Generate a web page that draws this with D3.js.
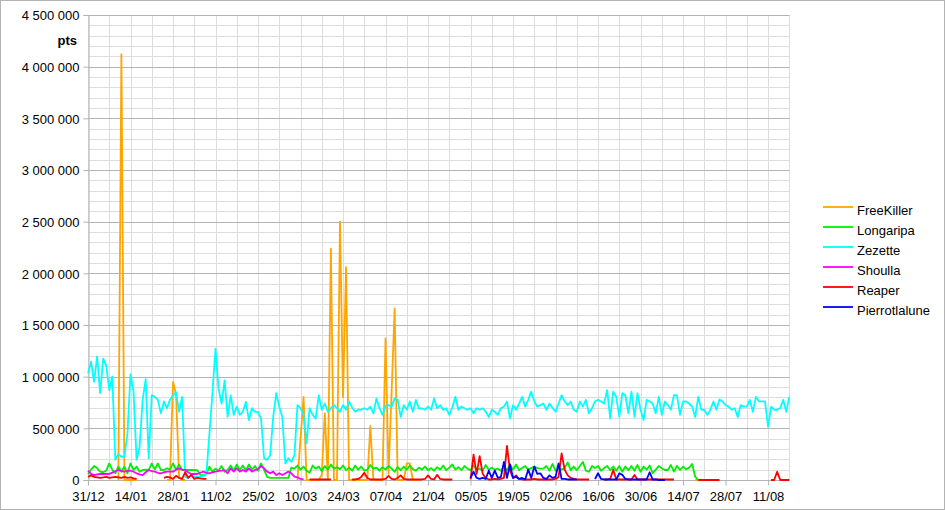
<!DOCTYPE html>
<html><head><meta charset="utf-8">
<script src="https://cdn.jsdelivr.net/npm/d3@7"></script>
<style>
html,body{margin:0;padding:0;background:#fff;}
svg{display:block;font-family:"Liberation Sans",Arial,sans-serif;}
</style></head>
<body>
<svg id="c" width="945" height="510"></svg>
<script>
// values in thousands of pts, one value per day starting 31/12
const startDate = Date.UTC(2019, 11, 31);
const seriesNames = ["FreeKiller","Longaripa","Zezette","Shoulla","Reaper","Pierrotlalune"];
const seriesColors = ["#ffa500","#00ee00","#00ffff","#ff00ff","#ff0000","#0000ff"];
const N = null;

const freeKiller = [
N,N,N,N,N,N,N,N,N,N, 0,4120,0,0,0,0,0, N,N,N,N,N,N,N,N,N,
0,0,950,830,30,0,0,
N,N,N,N,N,N,N,N,N,N,N,N,N,N,N,N,N,N,N,N,N,N,N,N,N,N,N,N,N,N,N,N,N,N,N,N,
0,400,805,0,0,0,0,0,50,645,0,2240,0,0,2500,800,2060,0,0,0,0,0,0,0,520,0,0,0,0,1370,60,850,1660,0,0,0,160,160,0,0,0,
N,N,N,N,N,N,N,N,N,N,N,N,N,N,N,N,N,N,N,N,N,N,N,N,N,N,N,N,N,N,N,N,N,N,N,N,N,N,N,N,N,N,N,N,N,N,N,N,N,N,N,N,N,N,N,N,N,N,N,N,N,N,N,N,N,N,N,N,N,N,N,N,N,N,N,N,N,N,N,N,N,N,N,N,N,N,N,N,N,N,
0,0,0,0,0,0,0,0,
N,N,N,N,N,N,N,N,N,N,N,N,N,N,N,N,N,N,N,N,N,N,N
];

const longaripa = [
58,100,135,115,80,75,90,160,100,65,
130,80,130,65,160,97,130,80,97,100,
97,160,103,160,97,97,113,100,161,100,
150,97,97,97,97,97,95,50,45,60,
130,80,110,90,135,80,100,140,90,150,
95,140,90,150,100,135,90,160,100,30,
20,20,20,20,20,20,20,120,110,140,
100,130,90,70,140,110,130,85,135,100,
150,110,125,105,140,95,120,90,140,100,
130,90,100,145,110,120,90,125,100,135,
110,80,125,95,130,100,140,105,90,120,
100,130,95,115,90,125,100,140,95,120,
150,100,125,95,135,110,95,140,100,110,
90,145,100,120,100,110,90,130,95,150,
100,150,95,115,135,100,115,130,115,110,
110,135,90,155,90,115,100,115,170,95,
130,95,135,175,90,80,135,115,135,90,
115,135,95,130,90,135,80,130,95,135,
90,145,80,130,100,140,
65,100,135,113,97,97,145,81,135,97,130,103,120,155,32,
0,0,0,0,0,0,0,
N,N,N,N,N,N,N,N,N,N,N,N,N,N,N,N,N,N,N,N,N,N,N,N
];

const zezette = [
1030,1145,950,1195,840,1175,1110,870,1000,195,
250,225,225,450,1025,855,195,320,775,975,
210,820,805,775,645,760,695,775,820,850,
660,805,30,20,40,30,30,35,35,60,
450,850,1270,885,740,965,610,820,630,710,
630,660,755,580,695,660,660,595,210,195,
240,610,840,710,610,160,210,175,240,725,
695,630,355,695,630,595,820,
680,740,660,695,725,695,660,725,680,760,700,
660,680,680,695,680,710,645,790,695,630,720,
725,710,790,775,610,725,680,760,660,775,690,
695,680,710,680,790,695,725,680,695,630,700,
805,680,710,695,680,695,645,695,680,695,660,
610,680,660,630,695,710,760,595,725,680,740,
805,710,775,855,760,710,725,740,680,740,700,
660,740,820,760,725,760,680,660,760,710,775,645,695,760,775,
760,
740,870,595,855,805,610,840,820,645,855,
610,840,680,580,775,760,740,645,805,630,
760,725,680,820,820,630,760,760,740,710,
610,805,680,680,630,680,760,680,780,760,
725,710,680,695,610,725,710,710,775,660,
805,760,760,760,515,710,680,680,695,775,
660,805
];

const shoulla = [
90,60,48,55,58,60,58,60,71,85,
97,85,81,88,90,80,65,55,48,75,
97,85,81,70,65,75,81,81,81,100,
113,100,97,75,58,58,58,70,81,70,
65,75,81,88,90,95,65,113,81,113,
81,97,81,113,81,97,105,135,113,81,
65,81,48,65,48,65,81,65,32,26,
10,5
];

const reaper = [
30,45,30,25,20,25,30,20,25,30,25,20,30,20,25,15,10,
N,N,N,N,N,N,N,N,
20,30,25,10,40,20,10,75,20,50,10,20,15,10,10,
N,N,N,N,N,N,N,N,N,N,N,N,N,N,N,N,N,N,N,N,N,N,N,N,N,N,N,N,N,N,N,N,N,
5,5,5,5,5,5,5,5,
N,N,N,N,N,N,
5,5,10,30,70,20,5,5,5,5,5,10,40,10,5,20,45,10,5,5,5,5,5,5,10,45,10,5,50,10,5,5,5,5,
N,N,N,N,N,
5,245,60,230,60,20,5,5,10,5,10,20,330,90,20,45,10,5,5,5,5,10,5,5,5,5,5,5,10,30,258,100,45,20,10,5,5,5,5,5,
N,N,N,N,
5,5,10,100,5,5,5,5,5,5,48,5,5,5,5,5,5,5,5,5,5,5,5,5,
N,N,N,N,N,N,N,
0,0,0,0,0,0,0,0,
N,N,N,N,N,N,N,N,N,N,N,N,N,N,N,N,
0,0,80,0,0,0,0
];

const pierrotlalune = [
...Array(126).fill(N),
20,80,20,10,20,10,90,20,90,20,30,175,20,150,20,30,10,20,5,100,20,130,60,65,20,10,45,20,30,160,10,10,5,5,5,5,
N,N,N,N,N,
10,65,10,5,5,5,5,5,65,50,10,5,5,5,5,5,5,5,75,5,5,0,0,0
];

const allSeries = [freeKiller, longaripa, zezette, shoulla, reaper, pierrotlalune];
const nDays = 232;
const yTickStep = 500000, yMinorStep = 100000, yMax = 4500000;

const svg = d3.select("#c");
// outer frame
svg.append("rect").attr("x",0.5).attr("y",0.5).attr("width",944).attr("height",509)
  .attr("fill","#fff").attr("stroke","#b3b3b3");

const dates = d3.range(nDays).map(i => new Date(startDate + i*864e5));
const x = d3.scaleUtc().domain([dates[0], dates[nDays-1]]).range([88, 88 + (nDays-1)*3.036]);
const y = d3.scaleLinear().domain([0, yMax]).range([480, 15]);
const [x0, x1] = x.range();

const g = svg.append("g");
// minor horizontal grid
g.selectAll("line.hm").data(d3.range(0, yMax + 1, yMinorStep).filter(v => v % yTickStep !== 0))
  .join("line").attr("x1", x0).attr("x2", x1)
  .attr("y1", d => Math.round(y(d)) + 0.5).attr("y2", d => Math.round(y(d)) + 0.5)
  .attr("stroke", "#dddddd");
// vertical grid every 7 days
const weekDates = d3.range(0, nDays, 7).map(i => dates[i]);
g.selectAll("line.v").data(weekDates).join("line")
  .attr("x1", d => Math.round(x(d)) + 0.5).attr("x2", d => Math.round(x(d)) + 0.5)
  .attr("y1", y(yMax)).attr("y2", y(0)).attr("stroke", "#dddddd");
// major horizontal grid
g.selectAll("line.hM").data(d3.range(0, yMax + 1, yTickStep))
  .join("line").attr("x1", x0).attr("x2", x1)
  .attr("y1", d => Math.round(y(d)) + 0.5).attr("y2", d => Math.round(y(d)) + 0.5)
  .attr("stroke", "#b3b3b3");

// y axis
const fmt = v => d3.format(",")(v).replace(/,/g, " ");
const yAxis = d3.axisLeft(y).tickValues(d3.range(0, yMax + 1, yTickStep)).tickSize(5).tickPadding(4).tickFormat(fmt);
const ya = svg.append("g").attr("transform", `translate(${Math.round(x0)+0.5},0)`).call(yAxis);
ya.select(".domain").attr("stroke", "#b3b3b3");
ya.selectAll(".tick line").attr("stroke", "#b3b3b3");
ya.selectAll(".tick text").attr("font-size", 13).attr("fill", "#000").attr("font-family", "Liberation Sans, Arial, sans-serif").attr("dy", "0.38em");

// x axis
const tickDates = d3.range(0, nDays, 14).map(i => dates[i]);
const xAxis = d3.axisBottom(x).tickValues(tickDates).tickSize(5).tickPadding(6).tickFormat(d3.utcFormat("%d/%m"));
const xa = svg.append("g").attr("transform", `translate(0,${Math.round(y(0))+0.5})`).call(xAxis);
xa.select(".domain").attr("stroke", "#b3b3b3").attr("d", `M${x0},0H${x1}`);
xa.selectAll(".tick line").attr("stroke", "#b3b3b3");
xa.selectAll(".tick text").attr("font-size", 13).attr("fill", "#000").attr("font-family", "Liberation Sans, Arial, sans-serif");

// axis title
svg.append("text").attr("x", 77).attr("y", 45).attr("text-anchor", "end")
  .attr("font-size", 13).attr("font-weight", "bold").text("pts");

// series
const line = d3.line().defined(d => d.v != null).x(d => x(d.date)).y(d => y(d.v * 1000));
allSeries.forEach((arr, si) => {
  const pts = arr.map((v, i) => ({date: dates[i], v: v}));
  svg.append("path").datum(pts).attr("d", line).attr("fill", "none")
    .attr("stroke", seriesColors[si]).attr("stroke-width", 1.8).attr("stroke-linejoin", "round");
});

// legend
const lg = svg.append("g");
seriesNames.forEach((n, i) => {
  const yy = 207 + i * 20;
  lg.append("line").attr("x1", 823).attr("x2", 853).attr("y1", yy).attr("y2", yy)
    .attr("stroke", seriesColors[i]).attr("stroke-width", 1.8);
  lg.append("text").attr("x", 857).attr("y", yy + 8).attr("font-size", 13).text(n);
});
</script>
</body></html>
